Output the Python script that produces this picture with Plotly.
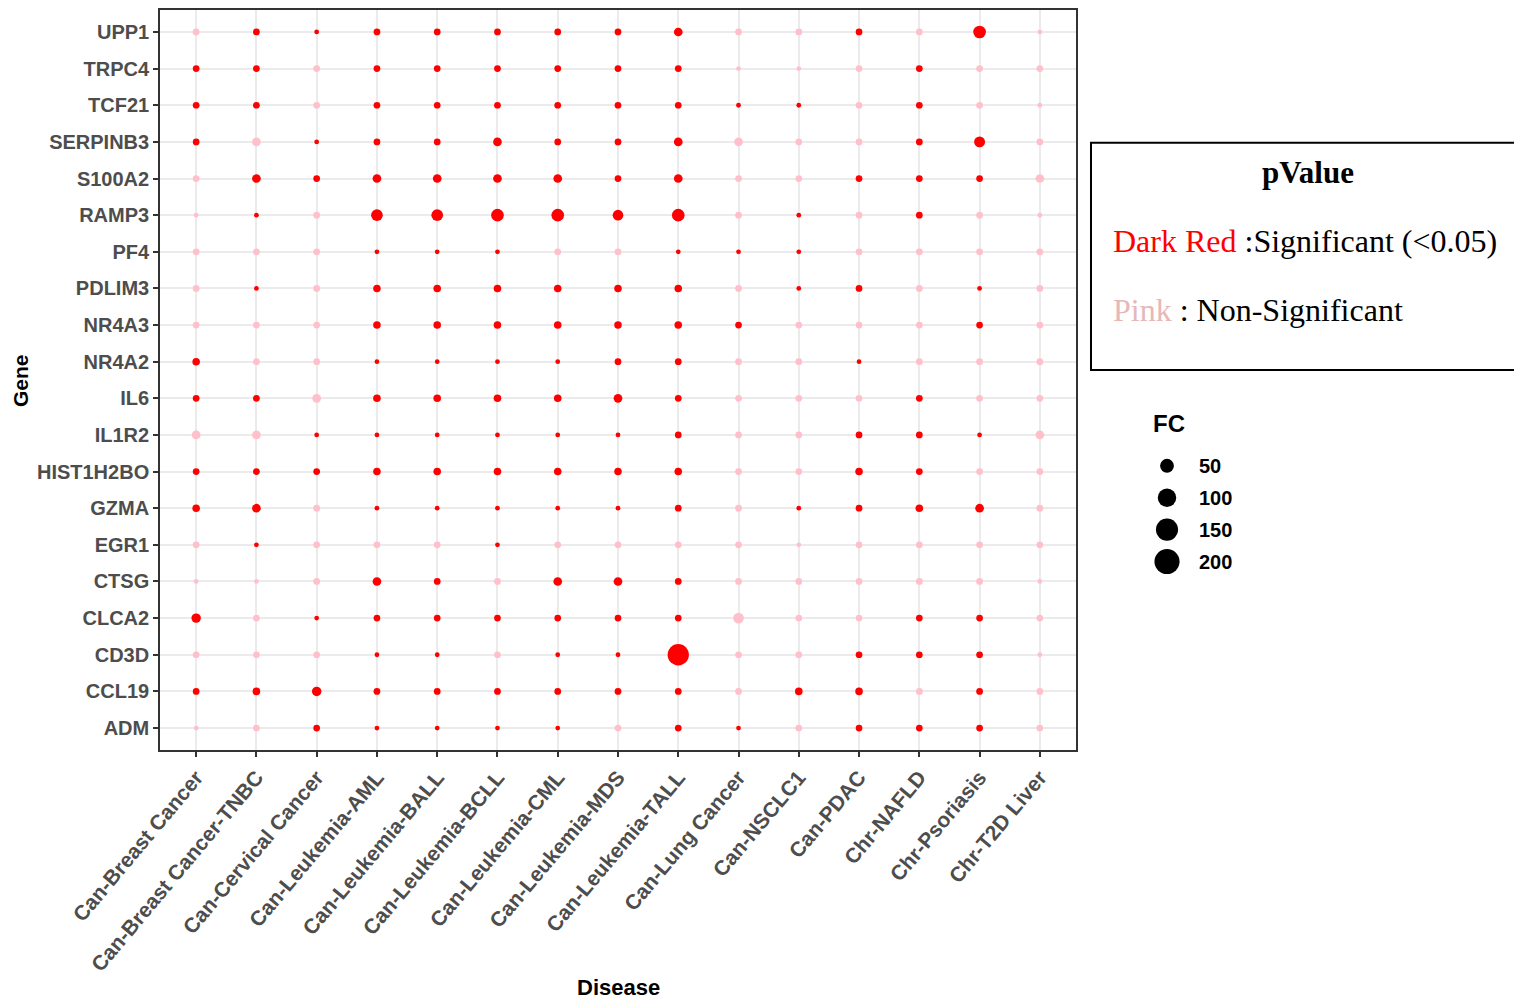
import plotly.graph_objects as go
import numpy as np

# ---------------- data ----------------
diseases = ["Can-Breast Cancer", "Can-Breast Cancer-TNBC", "Can-Cervical Cancer",
            "Can-Leukemia-AML", "Can-Leukemia-BALL", "Can-Leukemia-BCLL",
            "Can-Leukemia-CML", "Can-Leukemia-MDS", "Can-Leukemia-TALL",
            "Can-Lung Cancer", "Can-NSCLC1", "Can-PDAC", "Chr-NAFLD",
            "Chr-Psoriasis", "Chr-T2D Liver"]

genes = ["ADM", "CCL19", "CD3D", "CLCA2", "CTSG", "EGR1", "GZMA", "HIST1H2BO",
         "IL1R2", "IL6", "NR4A2", "NR4A3", "PDLIM3", "PF4", "RAMP3", "S100A2",
         "SERPINB3", "TCF21", "TRPC4", "UPP1"]

# fold change per gene (one value per disease, order as `diseases`)
fc_UPP1      = [7, 7, 2, 7, 7, 7, 7, 7, 15, 7, 7, 7, 7, 40, 2]
fc_TRPC4     = [7, 7, 7, 7, 7, 7, 7, 7, 7, 2, 2, 7, 7, 7, 7]
fc_TCF21     = [7, 7, 7, 7, 7, 7, 7, 7, 7, 2, 2, 7, 7, 7, 2]
fc_SERPINB3  = [7, 15, 2, 7, 7, 15, 7, 7, 15, 15, 7, 7, 7, 28, 7]
fc_S100A2    = [7, 15, 7, 15, 15, 15, 15, 7, 15, 7, 7, 7, 7, 7, 15]
fc_RAMP3     = [2, 2, 7, 33, 33, 40, 40, 26, 40, 7, 2, 7, 7, 7, 2]
fc_PF4       = [7, 7, 7, 2, 2, 2, 7, 7, 2, 2, 2, 7, 7, 7, 7]
fc_PDLIM3    = [7, 2, 7, 10, 10, 10, 10, 10, 10, 7, 2, 7, 7, 2, 7]
fc_NR4A3     = [7, 7, 7, 10, 10, 10, 10, 10, 10, 7, 7, 7, 7, 7, 7]
fc_NR4A2     = [10, 7, 7, 2, 2, 2, 2, 7, 7, 7, 7, 2, 7, 7, 7]
fc_IL6       = [7, 7, 15, 10, 10, 10, 10, 15, 7, 7, 7, 7, 7, 7, 7]
fc_IL1R2     = [15, 15, 2, 2, 2, 2, 2, 2, 7, 7, 7, 7, 7, 2, 15]
fc_HIST1H2BO = [7, 7, 7, 10, 10, 10, 10, 10, 10, 7, 7, 10, 7, 7, 7]
fc_GZMA      = [10, 15, 7, 2, 2, 2, 2, 2, 7, 7, 2, 7, 10, 15, 7]
fc_EGR1      = [7, 2, 7, 7, 7, 2, 7, 7, 7, 7, 2, 7, 7, 7, 7]
fc_CTSG      = [2, 2, 7, 15, 7, 7, 15, 15, 7, 7, 7, 7, 7, 7, 2]
fc_CLCA2     = [19, 7, 2, 7, 7, 7, 7, 7, 7, 26, 7, 7, 7, 7, 7]
fc_CD3D      = [7, 7, 7, 2, 2, 7, 2, 2, 138, 7, 7, 7, 7, 7, 2]
fc_CCL19     = [7, 10, 19, 7, 7, 7, 7, 7, 7, 7, 10, 10, 7, 7, 7]
fc_ADM       = [2, 7, 7, 2, 2, 2, 2, 7, 7, 2, 7, 7, 7, 7, 7]

# significance (1 = p < 0.05, 0 = non-significant)
sig_UPP1      = [0, 1, 1, 1, 1, 1, 1, 1, 1, 0, 0, 1, 0, 1, 0]
sig_TRPC4     = [1, 1, 0, 1, 1, 1, 1, 1, 1, 0, 0, 0, 1, 0, 0]
sig_TCF21     = [1, 1, 0, 1, 1, 1, 1, 1, 1, 1, 1, 0, 1, 0, 0]
sig_SERPINB3  = [1, 0, 1, 1, 1, 1, 1, 1, 1, 0, 0, 0, 1, 1, 0]
sig_S100A2    = [0, 1, 1, 1, 1, 1, 1, 1, 1, 0, 0, 1, 1, 1, 0]
sig_RAMP3     = [0, 1, 0, 1, 1, 1, 1, 1, 1, 0, 1, 0, 1, 0, 0]
sig_PF4       = [0, 0, 0, 1, 1, 1, 0, 0, 1, 1, 1, 0, 0, 0, 0]
sig_PDLIM3    = [0, 1, 0, 1, 1, 1, 1, 1, 1, 0, 1, 1, 0, 1, 0]
sig_NR4A3     = [0, 0, 0, 1, 1, 1, 1, 1, 1, 1, 0, 0, 0, 1, 0]
sig_NR4A2     = [1, 0, 0, 1, 1, 1, 1, 1, 1, 0, 0, 1, 0, 0, 0]
sig_IL6       = [1, 1, 0, 1, 1, 1, 1, 1, 1, 0, 0, 0, 1, 0, 0]
sig_IL1R2     = [0, 0, 1, 1, 1, 1, 1, 1, 1, 0, 0, 1, 1, 1, 0]
sig_HIST1H2BO = [1, 1, 1, 1, 1, 1, 1, 1, 1, 0, 0, 1, 1, 0, 0]
sig_GZMA      = [1, 1, 0, 1, 1, 1, 1, 1, 1, 0, 1, 1, 1, 1, 0]
sig_EGR1      = [0, 1, 0, 0, 0, 1, 0, 0, 0, 0, 0, 0, 0, 0, 0]
sig_CTSG      = [0, 0, 0, 1, 1, 0, 1, 1, 1, 0, 0, 0, 0, 0, 0]
sig_CLCA2     = [1, 0, 1, 1, 1, 1, 1, 1, 1, 0, 0, 0, 1, 1, 0]
sig_CD3D      = [0, 0, 0, 1, 1, 0, 1, 1, 1, 0, 0, 1, 1, 1, 0]
sig_CCL19     = [1, 1, 1, 1, 1, 1, 1, 1, 1, 0, 1, 1, 0, 1, 0]
sig_ADM       = [0, 0, 1, 1, 1, 1, 1, 0, 1, 1, 0, 1, 1, 1, 0]

fc_legend_values = [50, 100, 150, 200]

fc_rows = {"UPP1": fc_UPP1, "TRPC4": fc_TRPC4, "TCF21": fc_TCF21, "SERPINB3": fc_SERPINB3,
           "S100A2": fc_S100A2, "RAMP3": fc_RAMP3, "PF4": fc_PF4, "PDLIM3": fc_PDLIM3,
           "NR4A3": fc_NR4A3, "NR4A2": fc_NR4A2, "IL6": fc_IL6, "IL1R2": fc_IL1R2,
           "HIST1H2BO": fc_HIST1H2BO, "GZMA": fc_GZMA, "EGR1": fc_EGR1, "CTSG": fc_CTSG,
           "CLCA2": fc_CLCA2, "CD3D": fc_CD3D, "CCL19": fc_CCL19, "ADM": fc_ADM}
sig_rows = {"UPP1": sig_UPP1, "TRPC4": sig_TRPC4, "TCF21": sig_TCF21, "SERPINB3": sig_SERPINB3,
            "S100A2": sig_S100A2, "RAMP3": sig_RAMP3, "PF4": sig_PF4, "PDLIM3": sig_PDLIM3,
            "NR4A3": sig_NR4A3, "NR4A2": sig_NR4A2, "IL6": sig_IL6, "IL1R2": sig_IL1R2,
            "HIST1H2BO": sig_HIST1H2BO, "GZMA": sig_GZMA, "EGR1": sig_EGR1, "CTSG": sig_CTSG,
            "CLCA2": sig_CLCA2, "CD3D": sig_CD3D, "CCL19": sig_CCL19, "ADM": sig_ADM}

RED = "#FF0000"
PINK = "#FFC0CB"


def size_px(v):
    return 2.5 + 1.6 * np.sqrt(np.asarray(v, dtype=float))


xs, ys, fcs, cols = [], [], [], []
for g in genes:
    for d, v, s in zip(diseases, fc_rows[g], sig_rows[g]):
        xs.append(d)
        ys.append(g)
        fcs.append(v)
        cols.append(RED if s else PINK)

# ---------------- layout geometry ----------------
OFF = 8                      # page body margin of the html output
W, H = 1522 - OFF, 1005 - OFF
L, T = 160 - OFF, 8 - OFF
PLOT_BOTTOM = 750 - OFF
B = H - PLOT_BOTTOM
R = 0
PW, PH = W - L - R, H - T - B
plot_right = 1076


def px_x(p):
    return (p - OFF - L) / PW


def px_y(p):
    return (PLOT_BOTTOM - (p - OFF)) / PH


fig = go.Figure()
fig.add_trace(go.Scatter(
    x=xs, y=ys, mode="markers",
    marker=dict(size=size_px(fcs), color=cols, line=dict(width=0), opacity=1),
    showlegend=False, hoverinfo="x+y+text", text=[f"FC={v}" for v in fcs],
))

# FC size legend
fig.add_trace(go.Scatter(
    x=[27] * len(fc_legend_values), y=list(range(len(fc_legend_values))),
    mode="markers", marker=dict(size=size_px(fc_legend_values), color="#000000",
                                line=dict(width=0), opacity=1),
    xaxis="x2", yaxis="y2", showlegend=False, hoverinfo="skip",
))

ytickfont = dict(family="Liberation Sans, Arial", size=20, color="#4D4D4D", weight="bold")
xtickfont = dict(family="Liberation Sans, Arial", size=21, color="#4D4D4D", weight="bold")
axis_common = dict(showgrid=True, gridcolor="#EBEBEB", gridwidth=1.7,
                   showline=True, linecolor="#333333", linewidth=1.6, mirror=True,
                   ticks="outside", ticklen=5, tickwidth=1.6, tickcolor="#333333",
                   zeroline=False)

fig.update_layout(
    width=W, height=H,
    margin=dict(l=L, r=R, t=T, b=B),
    paper_bgcolor="white", plot_bgcolor="white",
    xaxis=dict(type="category", categoryorder="array", categoryarray=diseases,
               range=[-0.6, len(diseases) - 0.4], domain=[0, px_x(plot_right)],
               tickangle=-50, tickfont=xtickfont, **axis_common),
    yaxis=dict(type="category", categoryorder="array", categoryarray=genes,
               range=[-0.6, len(genes) - 0.4], tickfont=ytickfont, **axis_common),
    xaxis2=dict(domain=[px_x(1140), px_x(1260)], range=[0, 120], visible=False,
                anchor="y2", fixedrange=True),
    yaxis2=dict(domain=[px_y(581), px_y(445)], range=[3.625, -0.625], visible=False,
                anchor="x2", fixedrange=True),
    showlegend=False,
)

sans = "Liberation Sans, Arial"
serif = "Liberation Serif, Times New Roman"
ann = []
# axis titles
ann.append(dict(text="<b>Gene</b>", x=px_x(21), y=px_y(380), xref="paper", yref="paper",
                xanchor="center", yanchor="middle", showarrow=False, textangle=-90,
                font=dict(family=sans, size=21, color="black")))
ann.append(dict(text="<b>Disease</b>", x=px_x(618), y=px_y(988), xref="paper", yref="paper",
                xanchor="center", yanchor="middle", showarrow=False,
                font=dict(family=sans, size=22, color="black")))
# FC legend
ann.append(dict(text="<b>FC</b>", x=px_x(1151), y=px_y(423), xref="paper", yref="paper",
                xanchor="left", yanchor="middle", showarrow=False,
                font=dict(family=sans, size=24, color="black")))
for i, v in enumerate(fc_legend_values):
    ann.append(dict(text=f"<b>{v}</b>", x=57, y=i, xref="x2", yref="y2", xanchor="left",
                    yanchor="middle", showarrow=False,
                    font=dict(family=sans, size=20, color="black")))
# pValue box
ann.append(dict(text="<b>pValue</b>", x=px_x(1308), y=px_y(171), xref="paper", yref="paper",
                xanchor="center", yanchor="middle", showarrow=False,
                font=dict(family=serif, size=31, color="black")))
ann.append(dict(text='<span style="color:#FF0000">Dark Red</span> :Significant (&lt;0.05)',
                x=px_x(1111), y=px_y(240), xref="paper", yref="paper", xanchor="left",
                yanchor="middle", showarrow=False, font=dict(family=serif, size=32, color="black")))
ann.append(dict(text='<span style="color:#E6B8B8">Pink</span> : Non-Significant',
                x=px_x(1111), y=px_y(309), xref="paper", yref="paper", xanchor="left",
                yanchor="middle", showarrow=False, font=dict(family=serif, size=32, color="black")))
fig.update_layout(annotations=ann)

fig.add_shape(type="rect", xref="paper", yref="paper",
              x0=px_x(1091), x1=px_x(1545), y0=px_y(369), y1=px_y(141),
              line=dict(color="black", width=2), fillcolor="rgba(0,0,0,0)")

fig.write_html("out.html")
